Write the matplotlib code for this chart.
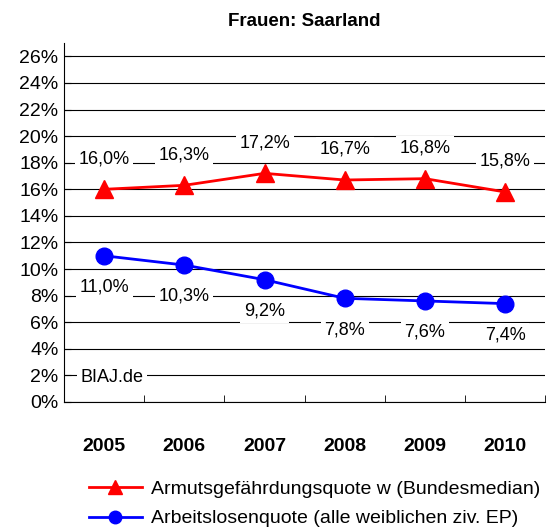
import numpy as np
import matplotlib.pyplot as plt

plt.rcParams['font.family'] = ['Liberation Sans', 'DejaVu Sans']

# Data
years = ["2005", "2006", "2007", "2008", "2009", "2010"]
armut = [16.0, 16.3, 17.2, 16.7, 16.8, 15.8]
alq = [11.0, 10.3, 9.2, 7.8, 7.6, 7.4]
label_armut = "Armutsgefährdungsquote w (Bundesmedian)"
label_alq = "Arbeitslosenquote (alle weiblichen ziv. EP)"

x = np.arange(len(years))

fig = plt.figure(figsize=(5.5, 5.32), dpi=100)
ax = fig.add_axes([0.1164, 0.2444, 0.875, 0.6746])

ax.set_axisbelow(True)
ax.grid(which='major', axis='y', color='black', linewidth=0.8)

ax.plot(x, armut, color='#ff0000', linewidth=2, marker='^', markersize=13,
        label=label_armut)
ax.plot(x, alq, color='#0000ff', linewidth=2, marker='o', markersize=12,
        label=label_alq)

def fmt(v):
    return ("%.1f%%" % v).replace(".", ",")

box = dict(boxstyle='square,pad=0.2', fc='white', ec='none')
for i in range(len(years)):
    ax.annotate(fmt(armut[i]), (x[i], armut[i]), xytext=(0, 22), textcoords='offset points',
                ha='center', va='center', fontsize=13, bbox=box)
    ax.annotate(fmt(alq[i]), (x[i], alq[i]), xytext=(0, -22.5), textcoords='offset points',
                ha='center', va='center', fontsize=13, bbox=box)

ax.text(0.035, 0.068, "BIAJ.de", transform=ax.transAxes, fontsize=13,
        ha='left', va='center', bbox=box)

ax.set_xlim(-0.5, 5.5)
ax.set_ylim(0, 27)
ax.set_yticks(np.arange(0, 27, 2))
ax.set_yticklabels(["%d%%" % v for v in range(0, 27, 2)], fontsize=14)
ax.set_xticks(x)
ax.set_xticklabels(years, fontsize=14, fontweight='bold')
ax.set_xticks(np.arange(-0.5, 6, 1), minor=True)
ax.tick_params(axis='x', which='major', length=0, pad=26)
ax.tick_params(axis='x', which='minor', direction='in', length=5, color='black')
ax.tick_params(axis='y', direction='in', length=5, pad=4)

for s in ['top', 'right']:
    ax.spines[s].set_visible(False)
ax.spines['left'].set_color('black')
ax.spines['bottom'].set_color('black')

ax.set_title("Frauen: Saarland", fontsize=13.5, fontweight='bold', pad=12)

fig.legend(loc='upper left', bbox_to_anchor=(0.148, 0.112), frameon=False, fontsize=14,
           handlelength=2.7, handletextpad=0.5, labelspacing=0.62, borderaxespad=0,
           markerscale=0.75)

fig.savefig("out.png", dpi=100)
